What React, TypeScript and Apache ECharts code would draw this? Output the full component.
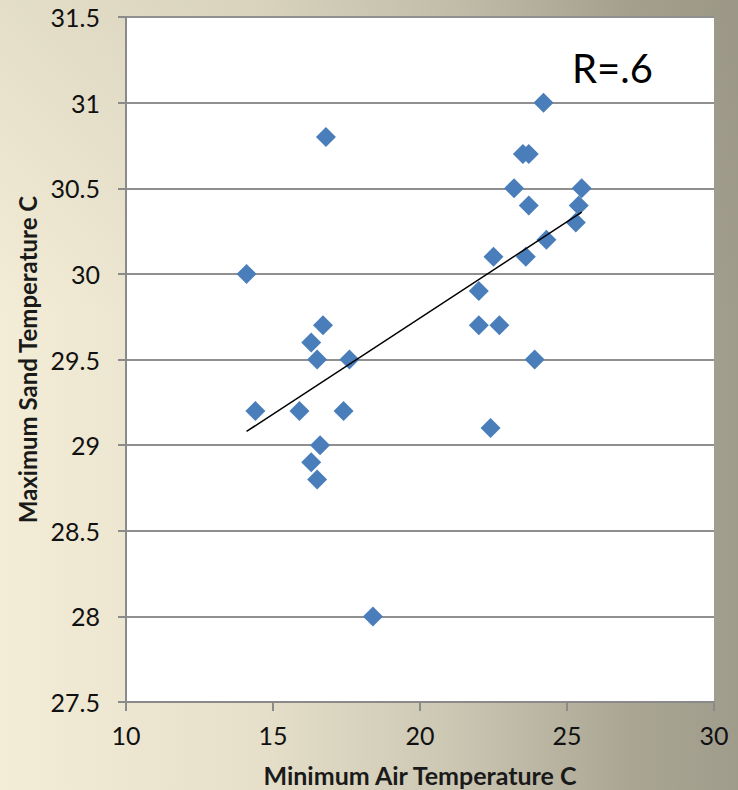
import React, { useEffect, useRef } from "react";
import * as echarts from "echarts";

const minAirTemp = [
  14.1, 14.4, 15.9, 16.3, 16.5, 16.7, 16.8, 16.6, 16.3, 16.5, 17.4, 17.6, 18.4,
  22.0, 22.0, 22.5, 22.7, 22.4, 23.2, 23.5, 23.7, 23.7, 23.6, 23.9, 24.2, 24.3,
  25.3, 25.4, 25.5,
];
const maxSandTemp = [
  30.0, 29.2, 29.2, 29.6, 29.5, 29.7, 30.8, 29.0, 28.9, 28.8, 29.2, 29.5, 28.0,
  29.9, 29.7, 30.1, 29.7, 29.1, 30.5, 30.7, 30.7, 30.4, 30.1, 29.5, 31.0, 30.2,
  30.3, 30.4, 30.5,
];
const trendX = [14.1, 25.5];
const trendY = [29.08, 30.36];

const xTitle = "Minimum Air Temperature C";
const yTitle = "Maximum Sand Temperature C";
const annotation = "R=.6";

export default function App() {
  const ref = useRef<HTMLDivElement>(null);
  useEffect(() => {
    if (!ref.current) return;
    const chart = echarts.init(ref.current, undefined, { renderer: "svg" });
    const font = "Lato, 'Open Sans', sans-serif";
    chart.setOption({
      animation: false,
      backgroundColor: "transparent",
      textStyle: { fontFamily: font },
      grid: {
        left: 126,
        right: 24,
        top: 17,
        bottom: 88,
        containLabel: false,
        outerBoundsMode: "none",
        show: true,
        backgroundColor: "#ffffff",
        borderWidth: 0,
      },
      xAxis: {
        type: "value",
        min: 10,
        max: 30,
        interval: 5,
        name: xTitle,
        nameLocation: "middle",
        nameGap: 60,
        nameTextStyle: { fontSize: 25, fontWeight: "bold", color: "#1a1a1a", fontFamily: font },
        axisLine: { show: true, lineStyle: { color: "#8a8a8a", width: 2 } },
        axisTick: { show: true, length: 9, lineStyle: { color: "#8a8a8a", width: 2 } },
        axisLabel: { fontSize: 25, color: "#111", margin: 20, fontFamily: font },
        splitLine: { show: false },
      },
      yAxis: {
        type: "value",
        min: 27.5,
        max: 31.5,
        interval: 0.5,
        name: yTitle,
        nameLocation: "middle",
        nameGap: 82,
        nameRotate: 90,
        nameTextStyle: { fontSize: 24, fontWeight: "bold", color: "#1a1a1a", fontFamily: font },
        axisLine: { show: true, lineStyle: { color: "#8a8a8a", width: 2 } },
        axisTick: { show: true, length: 8, lineStyle: { color: "#8a8a8a", width: 2 } },
        axisLabel: { fontSize: 25, color: "#111", margin: 26, fontFamily: font },
        splitLine: { show: true, lineStyle: { color: "#8f8f8f", width: 2 } },
      },
      series: [
        {
          type: "scatter",
          symbol: "diamond",
          symbolSize: 20,
          itemStyle: { color: "#4a7ebb", opacity: 1 },
          data: minAirTemp.map((x, i) => [x, maxSandTemp[i]]),
          z: 3,
        },
        {
          type: "line",
          data: trendX.map((x, i) => [x, trendY[i]]),
          showSymbol: false,
          symbol: "none",
          lineStyle: { color: "#000", width: 1.5 },
          z: 4,
        },
      ],
      graphic: [
        {
          type: "text",
          left: 572,
          top: 48,
          style: { text: annotation, fontSize: 40, fill: "#000", fontFamily: font },
        },
      ],
    });
    return () => chart.dispose();
  }, []);
  return (
    <div
      style={{
        position: "fixed",
        left: 0,
        top: 0,
        width: 738,
        height: 790,
        background:
          "linear-gradient(to bottom, rgba(120,115,95,0.12) 0%, rgba(120,115,95,0) 40%), linear-gradient(to right, #f3edd7 0%, #e6e0ca 35%, #cbc6b2 62%, #aaa693 85%, #a09c8c 100%)",
      }}
    >
      <div ref={ref} style={{ width: 738, height: 790 }} />
    </div>
  );
}
